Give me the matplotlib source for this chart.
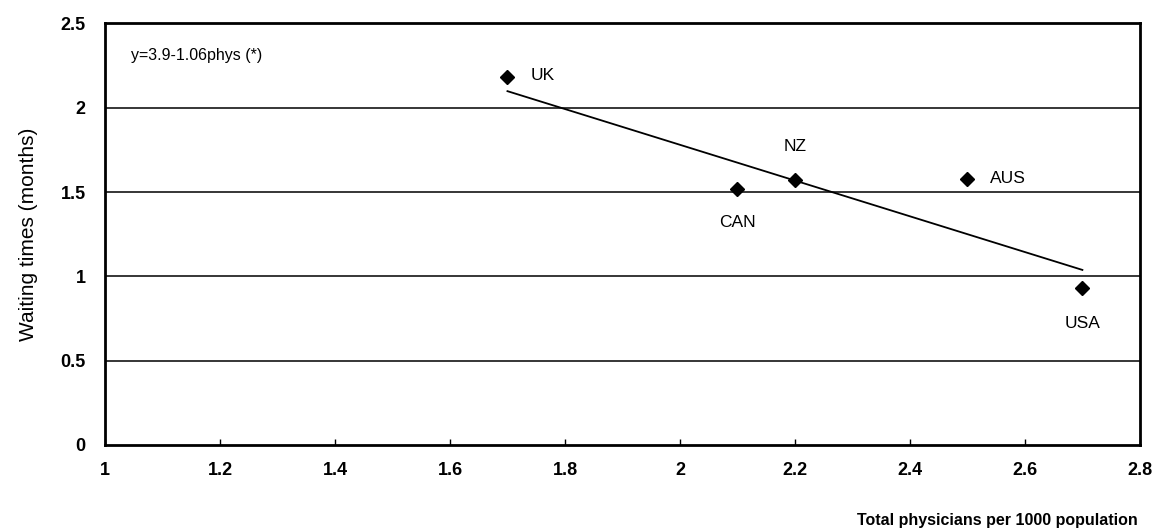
import matplotlib.pyplot as plt
import numpy as np

plt.rcParams["font.family"] = ["Liberation Sans", "DejaVu Sans"]

# Physicians per 1000 population vs. waiting times
countries = ["UK", "CAN", "NZ", "AUS", "USA"]
physicians = [1.7, 2.1, 2.2, 2.5, 2.7]
waiting = [2.18, 1.52, 1.57, 1.58, 0.93]

# Fitted line: y = 3.9 - 1.06 * phys
intercept = 3.9
slope = -1.06

fig = plt.figure(figsize=(11.72, 5.31), dpi=100)
ax = fig.add_axes([0.0896, 0.162, 0.883, 0.794])

# horizontal gridlines
for g in [0.5, 1.0, 1.5, 2.0]:
    ax.axhline(g, color="black", lw=1.1, zorder=1)

fit_x = np.array([min(physicians), max(physicians)])
ax.plot(fit_x, intercept + slope * fit_x, color="black", lw=1.3, zorder=2)

ax.plot(physicians, waiting, linestyle="none", marker="D", ms=7,
        color="black", zorder=3)

# country labels around each point
label_pos = {
    "UK": (0.04, 0.01, "left", "center"),
    "CAN": (0.0, -0.2, "center", "center"),
    "NZ": (0.0, 0.2, "center", "center"),
    "AUS": (0.04, 0.0, "left", "center"),
    "USA": (0.0, -0.21, "center", "center"),
}
for name, xv, yv in zip(countries, physicians, waiting):
    dx, dy, ha, va = label_pos[name]
    ax.text(xv + dx, yv + dy, name, ha=ha, va=va, fontsize=12.5)

ax.text(1.045, 2.31, "y=3.9-1.06phys (*)", fontsize=11.5, ha="left", va="center")

ax.set_xlim(1, 2.8)
ax.set_ylim(0, 2.5)
ax.set_xticks([1, 1.2, 1.4, 1.6, 1.8, 2, 2.2, 2.4, 2.6, 2.8])
ax.set_xticklabels(["1", "1.2", "1.4", "1.6", "1.8", "2", "2.2", "2.4", "2.6", "2.8"])
ax.set_yticks([0, 0.5, 1, 1.5, 2, 2.5])
ax.set_yticklabels(["0", "0.5", "1", "1.5", "2", "2.5"])
ax.tick_params(axis="x", direction="in", length=4, width=1, pad=12,
               labelsize=13)
ax.tick_params(axis="y", length=0, pad=14, labelsize=13)
for lab in ax.get_xticklabels() + ax.get_yticklabels():
    lab.set_fontweight("bold")

for sp in ax.spines.values():
    sp.set_linewidth(2)

ax.set_ylabel("Waiting times (months)", fontsize=15, labelpad=16)
fig.text(0.971, 0.005, "Total physicians per 1000 population", ha="right",
         va="bottom", fontsize=11.5, fontweight="bold")

fig.savefig("out.png", dpi=100, facecolor="white")
